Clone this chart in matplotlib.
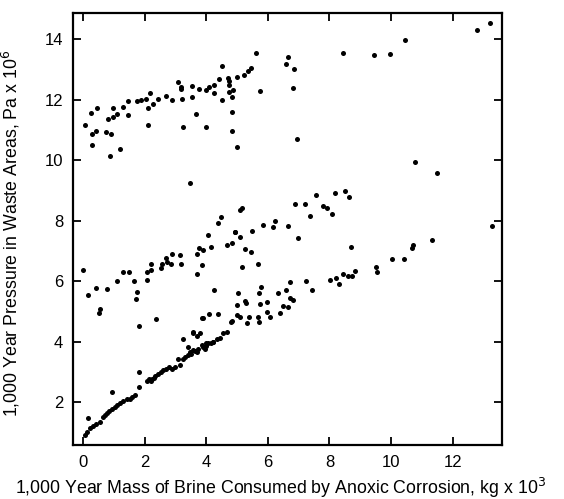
import numpy as np
import matplotlib
matplotlib.use("Agg")
import matplotlib.pyplot as plt

plt.rcParams['font.family'] = ['Liberation Sans', 'DejaVu Sans']

# upper band (high pressure realizations)
upper_x = [0.07, 0.27, 0.47, 0.30, 0.41, 0.30, 0.74, 0.92, 0.88, 1.20, 0.82, 0.96,
           0.98, 1.09, 1.30, 1.45, 1.47, 1.76, 1.90, 2.04, 2.12, 2.10, 2.18, 2.27,
           2.45, 2.69, 2.88, 3.10, 3.17, 3.22, 3.25, 3.19, 3.53, 3.55, 3.67, 3.78,
           3.98, 4.01, 4.09, 4.27, 4.27, 4.42, 4.50, 4.50, 4.72, 4.75, 4.73, 4.74,
           4.83, 4.83, 4.85, 5.01, 4.88, 5.01, 5.23, 5.37, 5.45, 5.62, 5.75, 6.58,
           6.67, 6.84, 6.81, 6.94, 8.43, 9.46, 9.97, 10.45, 12.78, 13.21, 10.78,
           11.48, 3.47]
upper_y = [11.17, 11.54, 11.72, 10.86, 10.97, 10.51, 10.93, 10.85, 10.14, 10.37, 11.37, 11.73,
           11.43, 11.52, 11.76, 11.96, 11.49, 11.96, 11.98, 12.01, 11.71, 11.16, 12.21, 11.86,
           12.02, 12.13, 11.99, 12.59, 12.40, 12.02, 11.09, 12.36, 12.44, 12.08, 11.53, 12.35,
           11.09, 12.32, 12.40, 12.47, 12.21, 12.67, 13.11, 11.98, 12.72, 12.60, 12.47, 12.25,
           12.07, 11.58, 10.97, 10.42, 12.31, 12.73, 12.81, 12.94, 13.05, 13.55, 12.29, 13.17,
           13.41, 13.01, 12.39, 10.68, 13.55, 13.46, 13.50, 13.97, 14.30, 14.52, 9.94,
           9.56, 9.25]

# middle band
middle_x = [0.01, 0.15, 0.41, 0.55, 0.52, 0.77, 1.09, 1.29, 1.49, 1.66, 1.75, 1.71,
            1.81, 2.09, 2.09, 2.20, 2.20, 2.36, 2.54, 2.57, 2.69, 2.74, 2.90, 2.85,
            3.15, 3.17, 3.69, 3.69, 3.78, 3.85, 3.91, 4.05, 4.16, 4.24, 4.37, 4.48,
            4.67, 4.83, 4.93, 5.10, 5.15, 7.56, 8.17, 8.51, 8.65, 6.89, 7.21, 7.78,
            7.91, 7.37, 8.07, 5.85, 6.25, 6.16, 6.67, 5.49, 4.94, 5.10, 6.98, 5.26,
            5.44, 8.70, 5.15, 5.68]
middle_y = [6.36, 5.55, 5.76, 5.09, 4.95, 5.73, 6.00, 6.30, 6.30, 6.00, 5.65, 5.40,
            4.52, 6.03, 6.31, 6.36, 6.58, 4.74, 6.44, 6.58, 6.75, 6.64, 6.89, 6.58,
            6.86, 6.57, 6.24, 6.88, 7.10, 6.52, 7.02, 7.51, 7.12, 5.70, 7.93, 8.13,
            7.19, 7.25, 7.61, 8.35, 8.40, 8.84, 8.92, 8.97, 8.77, 8.56, 8.56, 8.49,
            8.40, 8.16, 8.21, 7.85, 7.99, 7.78, 7.83, 7.66, 7.63, 7.47, 7.43, 7.06,
            6.97, 7.13, 6.45, 6.58]

# lower band
lower_x = [4.09, 4.37, 3.91, 4.81, 3.58, 3.69, 3.26, 4.56, 3.42, 4.01, 4.22, 5.02,
           5.01, 5.10, 10.03, 10.42, 9.50, 9.53, 8.83, 8.72, 8.61, 8.45, 8.32, 8.21,
           8.02, 7.43, 7.24, 6.73, 6.58, 6.34, 5.78, 5.73, 6.83, 6.72, 5.98, 5.75,
           5.26, 5.29, 6.50, 6.67, 6.40, 5.98, 6.07, 5.69, 5.73, 5.40, 5.31, 4.83,
           1.81, 0.93, 0.16, 0.06, 0.12, 0.23, 0.33, 0.44, 0.55, 0.66, 0.71, 0.77,
           0.93, 1.04, 1.11, 1.20, 1.31, 1.42, 1.53, 1.69, 1.83, 2.09, 2.15, 2.23,
           2.34, 2.45, 2.55, 2.69, 2.88, 2.99, 3.15, 3.09, 3.26, 3.42, 3.47, 3.58,
           3.74, 3.91, 4.07, 4.23, 4.34, 3.56, 3.80, 3.88, 4.67, 4.99, 13.27, 11.32,
           10.70, 10.67, 3.30, 3.50, 3.65, 3.85, 4.00, 4.15, 3.70, 2.60, 2.80, 2.20,
           2.30, 0.85, 1.60, 3.95, 4.45]
lower_y = [4.91, 4.91, 4.77, 4.65, 4.30, 4.19, 4.07, 4.27, 3.83, 3.94, 4.00, 5.59,
           5.21, 4.82, 6.74, 6.74, 6.45, 6.31, 6.33, 6.17, 6.17, 6.23, 5.90, 6.09,
           6.03, 5.70, 6.01, 5.98, 5.70, 5.60, 5.82, 5.59, 5.37, 5.43, 5.32, 5.24,
           5.35, 5.26, 5.17, 5.13, 4.93, 4.99, 4.82, 4.82, 4.65, 4.82, 4.60, 4.69,
           2.98, 2.32, 1.46, 0.91, 1.02, 1.13, 1.21, 1.27, 1.35, 1.52, 1.57, 1.63,
           1.76, 1.85, 1.90, 1.96, 2.04, 2.10, 2.11, 2.23, 2.51, 2.69, 2.75, 2.78,
           2.86, 2.93, 3.00, 3.08, 3.11, 3.17, 3.22, 3.44, 3.44, 3.55, 3.66, 3.72,
           3.77, 3.83, 3.94, 4.00, 4.07, 4.32, 4.27, 4.77, 4.32, 4.88, 7.82, 7.36,
           7.19, 7.11, 3.50, 3.60, 3.70, 3.90, 3.85, 3.95, 3.65, 3.05, 3.15, 2.70,
           2.80, 1.70, 2.18, 3.75, 4.12]

x_ticks = [0, 2, 4, 6, 8, 10, 12]
y_ticks = [2, 4, 6, 8, 10, 12, 14]

fig = plt.figure(figsize=(5.64, 4.99), dpi=100)
ax = fig.add_axes([0.129, 0.108, 0.761, 0.866])

for xs, ys in [(upper_x, upper_y), (middle_x, middle_y), (lower_x, lower_y)]:
    ax.scatter(xs, ys, s=13, color="black", linewidths=0)

ax.set_xlim(-0.33, 13.6)
ax.set_ylim(0.58, 14.86)
ax.set_xticks(x_ticks)
ax.set_yticks(y_ticks)
ax.tick_params(direction="in", length=6, width=1.3, labelsize=12,
               top=True, right=True, pad=7)
for sp in ax.spines.values():
    sp.set_linewidth(1.6)

ax.set_xlabel(r"1,000 Year Mass of Brine Consumed by Anoxic Corrosion, kg x 10$^3$",
              fontsize=12.8)
ax.set_ylabel(r"1,000 Year Pressure in Waste Areas, Pa x 10$^6$",
              fontsize=12.8)
ax.xaxis.set_label_coords(0.483, -0.072)
ax.yaxis.set_label_coords(-0.118, 0.49)

fig.savefig("out.png", dpi=100)
